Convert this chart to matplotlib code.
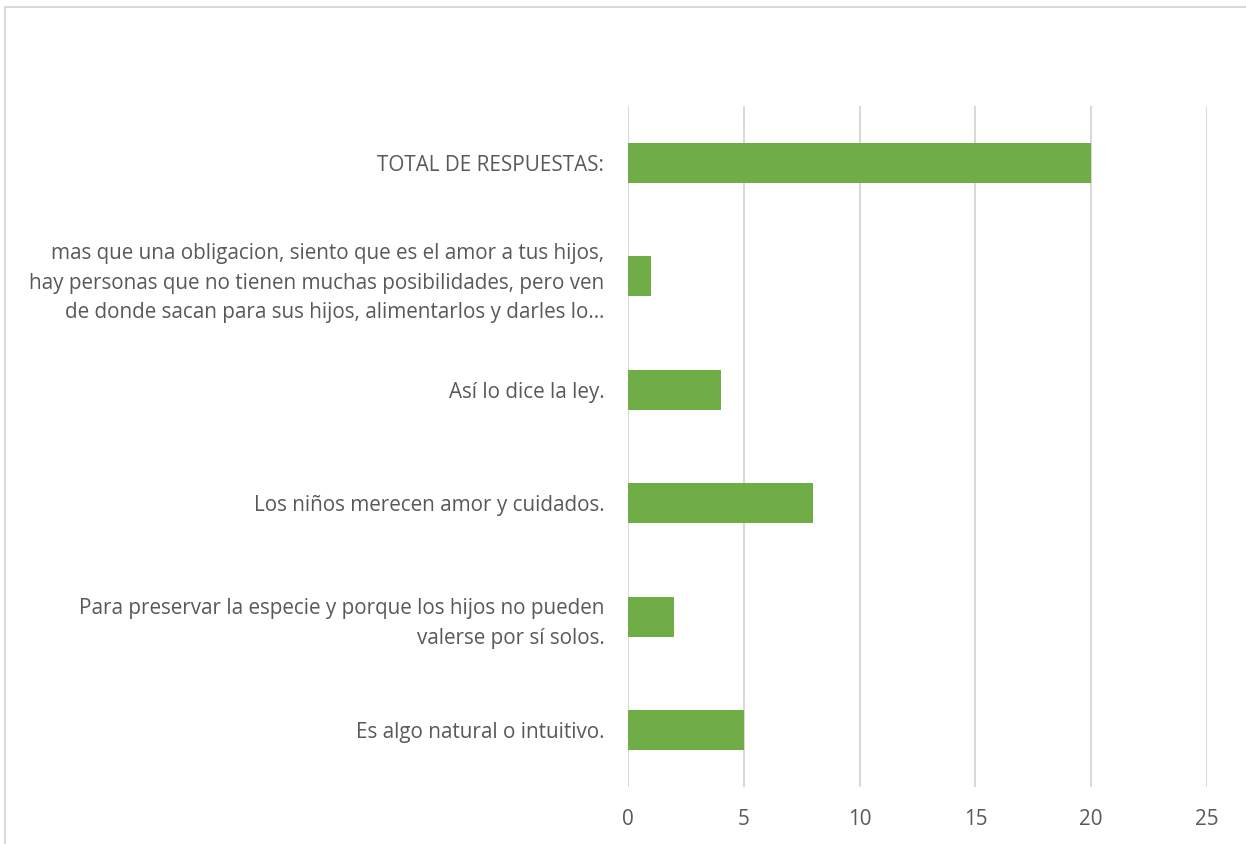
import matplotlib.pyplot as plt
from matplotlib.patches import Rectangle

categories = [
    "Es algo natural o intuitivo.",
    "Para preservar la especie y porque los hijos no pueden\nvalerse por sí solos.",
    "Los niños merecen amor y cuidados.",
    "Así lo dice la ley.",
    "mas que una obligacion, siento que es el amor a tus hijos,\nhay personas que no tienen muchas posibilidades, pero ven\nde donde sacan para sus hijos, alimentarlos y darles lo…",
    "TOTAL DE RESPUESTAS:",
]
values = [5, 2, 8, 4, 1, 20]
xticks = [0, 5, 10, 15, 20, 25]

plt.rcParams['font.family'] = ['Open Sans', 'DejaVu Sans']
textcolor = '#595959'
gridcolor = '#D9D9D9'

fig = plt.figure(figsize=(12.46, 8.44), dpi=100)
ax = fig.add_axes([0.504, 0.0675, 0.4647, 0.807])

ax.barh(range(len(categories)), values, height=0.35, color='#70AD47', zorder=3)

ax.set_xlim(0, 25)
ax.set_ylim(-0.5, len(categories) - 0.5)
ax.set_xticks(xticks)
ax.set_yticks(range(len(categories)))
ax.set_yticklabels(categories, multialignment='right', linespacing=1.55)
ax.grid(axis='x', color=gridcolor, linewidth=1.5, zorder=0)

for s in ax.spines.values():
    s.set_visible(False)
ax.tick_params(axis='both', length=0, labelsize=14.9, labelcolor=textcolor)
ax.tick_params(axis='x', pad=16)
ax.tick_params(axis='y', pad=17)

# outer chart border (partially cut off at right and bottom)
fig.patches.append(Rectangle((5 / 1246, -0.1), 1.2, 1 - 7 / 844 + 0.1,
                             transform=fig.transFigure, fill=False,
                             edgecolor=gridcolor, linewidth=1.5))

fig.savefig("out.png", dpi=100)
